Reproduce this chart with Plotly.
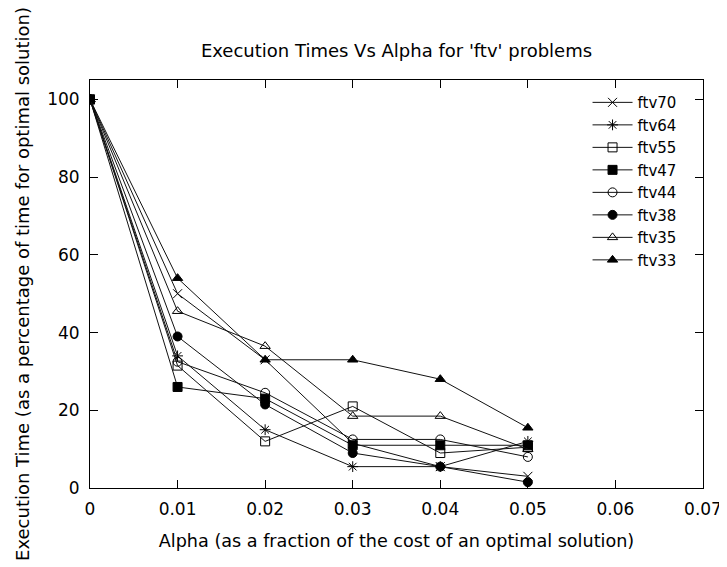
import plotly.graph_objects as go

alpha = [0, 0.01, 0.02, 0.03, 0.04, 0.05]

ftv70 = [100, 50, 33, 11.5, 5.5, 3]
ftv64 = [100, 34, 15, 5.5, 5.5, 12]
ftv55 = [100, 31.5, 12, 21, 9, 10.5]
ftv47 = [100, 26, 23, 11, 11, 11]
ftv44 = [100, 32.5, 24.5, 12.5, 12.5, 8]
ftv38 = [100, 39, 21.5, 9, 5.5, 1.5]
ftv35 = [100, 45.5, 36.5, 18.5, 18.5, 10]
ftv33 = [100, 54, 33, 33, 28, 15.5]

series = [
    ("ftv70", ftv70, "x-thin-open"),
    ("ftv64", ftv64, "asterisk-open"),
    ("ftv55", ftv55, "square-open"),
    ("ftv47", ftv47, "square"),
    ("ftv44", ftv44, "circle-open"),
    ("ftv38", ftv38, "circle"),
    ("ftv35", ftv35, "triangle-up-open"),
    ("ftv33", ftv33, "triangle-up"),
]

x_ticks = [0, 0.01, 0.02, 0.03, 0.04, 0.05, 0.06, 0.07]
x_tick_labels = ["0", "0.01", "0.02", "0.03", "0.04", "0.05", "0.06", "0.07"]
y_ticks = [0, 20, 40, 60, 80, 100]

FONT = "DejaVu Sans, sans-serif"
FS = 17

fig = go.Figure()
for name, vals, sym in series:
    fig.add_trace(go.Scatter(
        x=alpha, y=vals, name=name, mode="lines+markers",
        line=dict(color="#111111", width=1),
        marker=dict(symbol=sym, size=9, color="black",
                    line=dict(color="black", width=1)),
    ))

fig.update_layout(
    width=727, height=567,
    paper_bgcolor="white", plot_bgcolor="white",
    margin=dict(l=82, r=32, t=72, b=87),
    font=dict(family=FONT, size=FS, color="black"),
    title=dict(text="Execution Times Vs Alpha for 'ftv' problems",
               x=(82 + 613 / 2) / 727, xanchor="center",
               y=1 - 43 / 567, yanchor="middle",
               font=dict(family=FONT, size=18, color="black")),
    showlegend=True,
    legend=dict(x=0.965, xanchor="right", y=0.985, yanchor="top",
                bgcolor="rgba(0,0,0,0)", borderwidth=0,
                font=dict(family=FONT, size=15, color="black"),
                itemwidth=40, tracegroupgap=0),
    xaxis=dict(range=[0, 0.07], tickvals=x_ticks, ticktext=x_tick_labels,
               ticks="inside", ticklen=8, tickcolor="black", tickwidth=1,
               showline=True, linecolor="black", linewidth=1, mirror="allticks",
               showgrid=False, zeroline=False, ticklabelstandoff=6,
               title=dict(text="Alpha (as a fraction of the cost of an optimal solution)",
                          font=dict(family=FONT, size=17.6), standoff=16),
               tickfont=dict(family=FONT, size=FS)),
    yaxis=dict(range=[0, 105], tickvals=y_ticks,
               ticks="inside", ticklen=8, tickcolor="black", tickwidth=1,
               showline=True, linecolor="black", linewidth=1, mirror="allticks",
               showgrid=False, zeroline=False, ticklabelstandoff=6,
               title=dict(text="Execution Time (as a percentage of time for optimal solution)",
                          font=dict(family=FONT, size=18), standoff=12),
               tickfont=dict(family=FONT, size=FS)),
)

fig.write_html("out.html")
